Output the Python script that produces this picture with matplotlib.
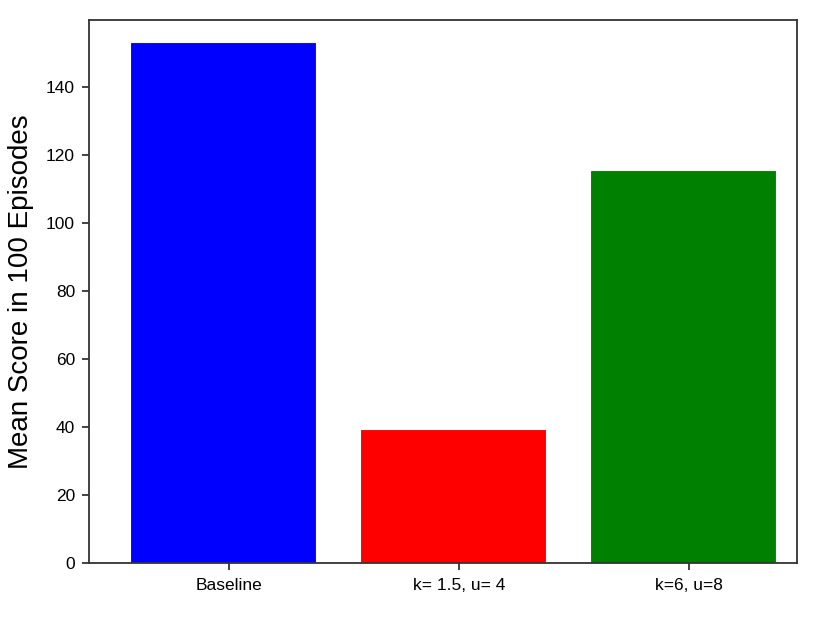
import matplotlib.pyplot as plt
import numpy as np

plt.rcParams['font.family'] = ['Liberation Sans', 'DejaVu Sans']

etiquetas = ['Baseline', 'k= 1.5, u= 4', 'k=6, u=8']
puntajes = [153.0, 39.3, 115.6]
colores = ['blue', 'red', 'green']

fig = plt.figure(figsize=(8.3, 6.22), dpi=100)
ax = fig.add_axes([0.1072, 0.0953, 0.853, 0.8725])

x = np.arange(len(etiquetas))
ax.bar(x, puntajes, width=0.81, color=colores, edgecolor='white', linewidth=0.8)

ax.set_xlim(-0.583, 2.496)
ax.set_ylim(0, 159.6)
ax.set_yticks([0, 20, 40, 60, 80, 100, 120, 140])
ax.set_xticks(x + 0.025)
ax.set_xticklabels(etiquetas)
ax.tick_params(axis='both', labelsize=12.5, length=5, width=1.2, color='#222222')
ax.tick_params(axis='y', pad=5)
ax.tick_params(axis='x', pad=6)
ax.set_ylabel('Mean Score in 100 Episodes', fontsize=20, labelpad=9)

for s in ax.spines.values():
    s.set_color('#333333')
    s.set_linewidth(1.3)

fig.savefig('out.png', dpi=100)
